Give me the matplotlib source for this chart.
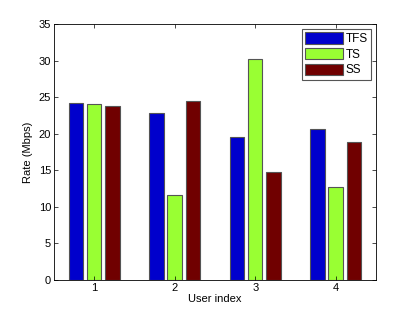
import numpy as np
import matplotlib.pyplot as plt

# --- data ---
users = [1, 2, 3, 4]
series = ["TFS", "TS", "SS"]
tfs = [24.25, 22.9, 19.55, 20.6]
ts = [24.0, 11.6, 30.2, 12.7]
ss = [23.75, 24.5, 14.7, 18.8]
colors = ["#0000CC", "#99FF33", "#700000"]

plt.rcParams['font.family'] = ['Liberation Sans', 'DejaVu Sans']

fig = plt.figure(figsize=(4.15, 3.16), dpi=100)
ax = fig.add_axes([0.130, 0.114, 0.776, 0.810])

x = np.array(users, dtype=float)
step = 0.225
width = 0.18
for i, (vals, name, c) in enumerate(zip([tfs, ts, ss], series, colors)):
    ax.bar(x + (i - 1) * step, vals, width=width, color=c, edgecolor="#555555",
           linewidth=0.8, label=name)

ax.set_xlim(0.5, 4.5)
ax.set_ylim(0, 35)
ax.set_xticks(users)
ax.set_yticks(np.arange(0, 36, 5))
ax.tick_params(direction="in", top=True, right=True, labelsize=8, length=3, width=0.5, pad=2)
for s in ax.spines.values():
    s.set_linewidth(0.6)
ax.set_xlabel("User index", fontsize=8, labelpad=1)
ax.set_ylabel("Rate (Mbps)", fontsize=8, labelpad=4)

leg = ax.legend(loc="upper right", fontsize=8.5, fancybox=False, edgecolor="#555555",
                framealpha=1, handlelength=3.2, handleheight=1.1, handletextpad=0.2,
                labelspacing=0.25, borderpad=0.3, borderaxespad=0.4)
leg.get_frame().set_linewidth(0.8)

fig.savefig("out.png", dpi=100)
